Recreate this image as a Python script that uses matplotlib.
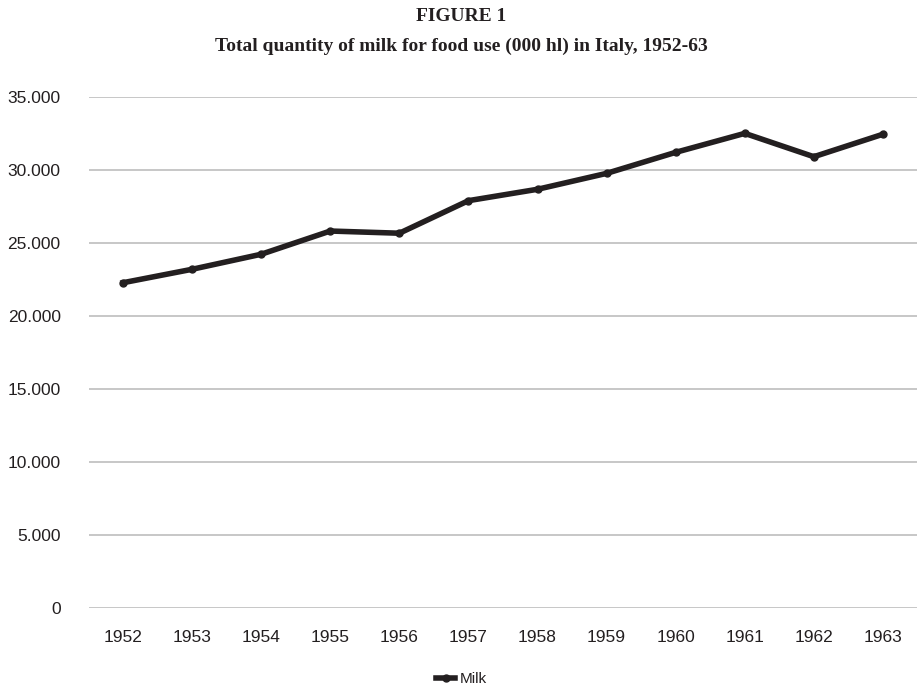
import matplotlib
matplotlib.use('Agg')
import matplotlib.pyplot as plt

years = ['1952', '1953', '1954', '1955', '1956', '1957',
         '1958', '1959', '1960', '1961', '1962', '1963']
milk = [22280, 23200, 24230, 25820, 25670, 27900,
        28680, 29770, 31210, 32510, 30910, 32450]
yticks = [0, 5000, 10000, 15000, 20000, 25000, 30000, 35000]
ytick_labels = ['0', '5.000', '10.000', '15.000', '20.000', '25.000', '30.000', '35.000']

sans = ['Liberation Sans', 'DejaVu Sans']
serif = ['Liberation Serif', 'DejaVu Serif']

fig = plt.figure(figsize=(9.23, 6.89), dpi=100)
ax = fig.add_axes([0.0959, 0.1176, 0.8981, 0.7416])

x = range(len(years))
ax.plot(x, milk, color='#231f20', lw=4, marker='o', ms=5,
        solid_joinstyle='round', label='Milk')

ax.set_xlim(-0.5, len(years) - 0.5)
ax.set_ylim(0, 35000)
ax.set_yticks(yticks)
ax.set_yticklabels(ytick_labels, family=sans, fontsize=12.5, color='#231f20')
ax.set_xticks(list(x))
ax.set_xticklabels(years, family=sans, fontsize=12.5, color='#231f20')
ax.tick_params(axis='both', length=0)
ax.tick_params(axis='y', pad=20)
ax.tick_params(axis='x', pad=16)
ax.grid(axis='y', color='#bdbdbd', lw=1.2)
ax.set_axisbelow(True)
for s in ax.spines.values():
    s.set_visible(False)

fig.text(0.5, 0.988, 'FIGURE 1', ha='center', va='top',
         family=serif, fontweight='bold', fontsize=14, color='#231f20')
fig.text(0.5, 0.945, 'Total quantity of milk for food use (000 hl) in Italy, 1952-63',
         ha='center', va='top', family=serif, fontweight='bold', fontsize=14,
         color='#231f20')

leg = fig.legend(loc='lower center', bbox_to_anchor=(0.5, -0.016), frameon=False,
                 handlelength=1.2, handletextpad=0.3, prop={'family': sans, 'size': 11})
for t in leg.get_texts():
    t.set_color('#231f20')

fig.savefig('out.png', dpi=100)
